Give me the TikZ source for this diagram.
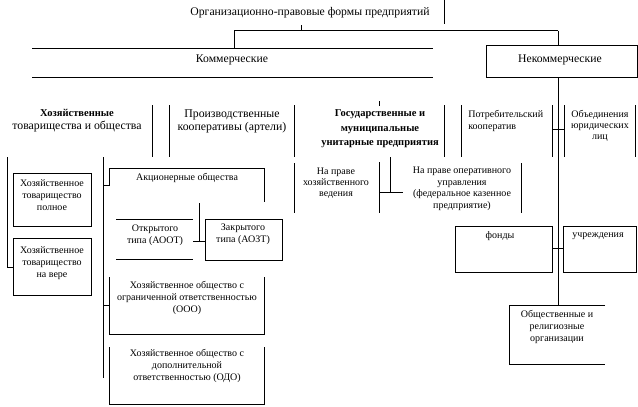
\documentclass[tikz,border=0pt]{standalone}
\usepackage{fontspec}
\setmainfont{Liberation Serif}
\begin{document}
\begin{tikzpicture}[x=1pt,y=-1pt,line width=0.7pt,
  ttl/.style={inner sep=0,font=\fontsize{11.7}{13}\selectfont},
  cat/.style={inner sep=0,align=center,font=\fontsize{10.5}{13}\selectfont},
  catb/.style={inner sep=0,align=center,font=\bfseries\fontsize{10.5}{14.5}\selectfont},
  lbl/.style={inner sep=0,align=center,font=\fontsize{10}{12}\selectfont},
  lbll/.style={inner sep=0,align=left,font=\fontsize{10}{12}\selectfont},
  box/.style={draw,inner sep=0}]
\useasboundingbox (0,0) rectangle (638,407);

% title
\node[ttl] (title) at (310,13) {Организационно-правовые формы предприятий};
\draw (444,0) -- (444,24);
\coordinate (tb) at (301,25);
\coordinate (tj) at (301,30.5);
\coordinate (jl) at (234,30.5);
\coordinate (jr) at (558,30.5);
\draw (tb) -- (tj);
\draw (jl) -- (jr);
\draw (jl) -- (234,48);
\draw (jr) -- (558,45);

% Коммерческие
\draw (32,48) -- (433,48);
\draw (32,77) -- (433,77);
\node[ttl] (kom) at (232,60) {Коммерческие};

% Некоммерческие
\node[box,minimum width=151,minimum height=32] (nekom) at (561.5,61) {};
\node[ttl] (nekomt) at (560,60) {Некоммерческие};
\draw (558,77) -- (558,305);

% second row frames
\foreach \x in {152,169,294,444,461,552,564,635}
  \draw (\x,105) -- (\x,157);
\draw (379,101) -- (379,106);
\draw (552,129) -- (564,129);

\node[cat] (hoz) at (77,121) {\textbf{Хозяйственные}\\{\fontsize{11.8}{13}\selectfont товарищества и общества}};
\node[cat,font=\fontsize{11.8}{13}\selectfont] (proizv) at (232,121) {Производственные\\кооперативы (артели)};
\node[catb] (gos) at (380,129) {Государственные и\\муниципальные\\унитарные предприятия};
\node[lbll,anchor=west] (potreb) at (468,121) {Потребительский\\кооператив};
\node[lbl,font=\fontsize{10}{11}\selectfont] (obed) at (600,126) {Объединения\\юридических\\лиц};

% left column
\draw (7,157) -- (7,267) -- (13,267);
\node[box,minimum width=78,minimum height=53] (poln) at (52,199.5) {};
\node[lbl] at (52,195) {Хозяйственное\\товарищество\\полное};
\node[box,minimum width=78,minimum height=57] (vera) at (52,266.5) {};
\node[lbl] at (52,263) {Хозяйственное\\товарищество\\на вере};

% middle-left column
\draw (103,157) -- (103,378);
\draw (103,185) -- (109,185);
\draw (103,305) -- (109,305);
\draw (109,186) -- (109,168) -- (264,168) -- (264,202);
\node[lbl] (ao) at (187,178) {Акционерные общества};
\draw (116,219) -- (193,219);
\draw (116,259) -- (193,259);
\node[lbl] (aoot) at (155,235) {Открытого\\типа (АООТ)};
\draw (199,203) -- (199,242);
\draw (193,241) -- (205,241);
\node[box,minimum width=77,minimum height=41] (aozt) at (243.5,239.5) {};
\node[lbl] at (243,234) {Закрытого\\типа (АОЗТ)};
\draw (109,277) -- (109,334) -- (264,334) -- (264,277);
\node[lbl] (ooo) at (187,298) {Хозяйственное общество с\\ограниченной ответственностью\\(ООО)};
\draw (109,347) -- (109,404) -- (264,404) -- (264,347);
\node[lbl] (odo) at (187,366) {Хозяйственное общество с\\дополнительной\\ответственностью (ОДО)};

% unitary enterprises
\draw (294,163) -- (294,213);
\draw (379,162) -- (379,213);
\node[lbl,font=\fontsize{10}{11}\selectfont] (hozved) at (336,183) {На праве\\хозяйственного\\ведения};
\draw (390,157) -- (390,192);
\draw (379,192) -- (403,192);
\draw (521,163) -- (521,213);
\node[lbl,font=\fontsize{10}{11.5}\selectfont] (operupr) at (462,189) {На праве оперативного\\управления\\(федеральное казенное\\предприятие)};

% non-commercial lower
\node[box,minimum width=97,minimum height=46] (fondy) at (503.5,249) {};
\node[lbl] at (500,236) {фонды};
\node[box,minimum width=73,minimum height=46] (uchr) at (599.5,249) {};
\node[lbl] at (598,236) {учреждения};
\draw (552,248) -- (563,248);
\draw (605,305) -- (509,305) -- (509,364) -- (605,364);
\node[lbl] (obsh) at (557,327) {Общественные и\\религиозные\\организации};
\end{tikzpicture}
\end{document}
